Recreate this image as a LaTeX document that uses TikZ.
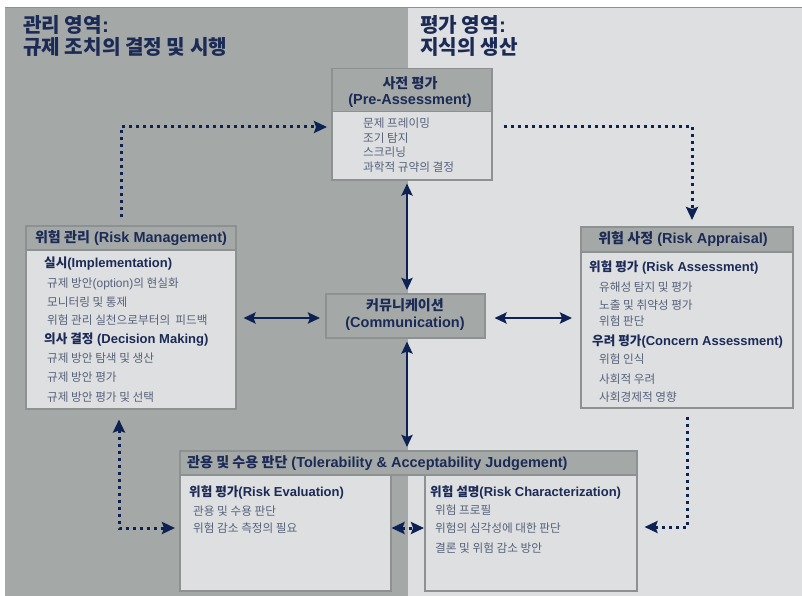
\documentclass[tikz,border=0pt]{standalone}
\usepackage{fontspec}
\setmainfont{Liberation Sans}
\newfontfamily\hgf{Noto Sans CJK KR}[Scale=0.97]
\newcommand\hg[1]{{\hgf #1}}
\usetikzlibrary{arrows.meta}
\definecolor{panelL}{HTML}{A4A9A7}
\definecolor{panelR}{HTML}{DDDFE1}
\definecolor{edgec}{HTML}{8D9191}
\definecolor{navy}{HTML}{1C2A56}
\definecolor{itemc}{HTML}{58617A}
\definecolor{arrc}{HTML}{0D2252}
\begin{document}
\begin{tikzpicture}[x=1pt,y=-1pt,
 hdr/.style={draw=edgec, line width=1.5pt, fill=panelL, inner sep=0pt, anchor=north west},
 bodybox/.style={draw=edgec, line width=1.5pt, fill=panelR, inner sep=0pt, anchor=north west},
 ttl/.style={font=\fontsize{20.8}{24}\selectfont\bfseries, text=navy, anchor=west, inner sep=0pt, text height=15pt, text depth=0pt},
 htxt/.style={font=\fontsize{14.5}{17}\selectfont\bfseries, text=navy, inner sep=0pt, text height=10.4pt, text depth=0pt},
 subt/.style={font=\fontsize{13}{15}\selectfont\bfseries, text=navy, anchor=west, inner sep=0pt, text height=9.3pt, text depth=0pt},
 item/.style={font=\fontsize{12}{14}\selectfont, text=itemc, anchor=west, inner sep=0pt, text height=8.6pt, text depth=0pt},
 conn/.style={draw=arrc, line width=2.5pt, shorten <=3pt, shorten >=3pt,
   {Stealth[length=12pt,width=11pt,inset=2pt]}-{Stealth[length=12pt,width=11pt,inset=2pt]}},
 dotc/.style={draw=arrc, line width=3pt, dash pattern=on 3pt off 4pt},
 tipd/.tip={Stealth[length=13pt,width=12pt,inset=2pt]}
]
\useasboundingbox (0,0) rectangle (802,596);
\fill[white] (0,0) rectangle (802,596);
\fill[panelL] (5,8) rectangle (408,596);
\fill[panelR] (408,8) rectangle (802,596);
\draw[edgec, line width=1pt] (5,7.5) -- (802,7.5);

% titles
\node[ttl] (tl1) at (23,25) {\hg{관리 영역}:};
\node[ttl] (tl2) at (23,47) {\hg{규제 조치의 결정 및 시행}};
\node[ttl] (tr1) at (420,25) {\hg{평가 영역}:};
\node[ttl] (tr2) at (420,47) {\hg{지식의 생산}};

% pre-assessment
\node[hdr, minimum width=160pt, minimum height=43pt] (preH) at (331,68) {};
\node[bodybox, minimum width=160pt, minimum height=68pt] (preB) at (331,111) {};
\node[htxt] (preT1) at (410,83) {\hg{사전 평가}};
\node[htxt] (preT2) at (410,99) {(Pre-Assessment)};
\node[item] (pre1) at (363,123) {\hg{문제 프레이밍}};
\node[item] (pre2) at (363,138) {\hg{조기 탐지}};
\node[item] (pre3) at (363,152) {\hg{스크리닝}};
\node[item] (pre4) at (363,167) {\hg{과학적 규약의 결정}};

% risk management
\node[hdr, minimum width=210pt, minimum height=24pt] (rmH) at (25,225) {};
\node[bodybox, minimum width=210pt, minimum height=159pt] (rmB) at (25,249) {};
\node[htxt] (rmT) at (131,237) {\hg{위험 관리} (Risk Management)};
\node[subt] (rmS1) at (44,263) {\hg{실시}(Implementation)};
\node[item] (rm1) at (47,283) {\hg{규제 방안}(option)\hg{의 현실화}};
\node[item] (rm2) at (47,302) {\hg{모니터링 및 통제}};
\node[item] (rm3) at (47,320) {\hg{위험 관리 실천으로부터의\ \ 피드백}};
\node[subt] (rmS2) at (44,339) {\hg{의사 결정} (Decision Making)};
\node[item] (rm4) at (47,358) {\hg{규제 방안 탐색 및 생산}};
\node[item] (rm5) at (47,377) {\hg{규제 방안 평가}};
\node[item] (rm6) at (47,397) {\hg{규제 방안 평가 및 선택}};

% risk appraisal
\node[hdr, minimum width=212pt, minimum height=25pt] (raH) at (580,226) {};
\node[bodybox, minimum width=212pt, minimum height=156pt] (raB) at (580,251) {};
\node[htxt] (raT) at (683,238) {\hg{위험 사정} (Risk Appraisal)};
\node[subt] (raS1) at (589,267) {\hg{위험 평가} (Risk Assessment)};
\node[item] (ra1) at (599,287) {\hg{유해성 탐지 및 평가}};
\node[item] (ra2) at (599,305) {\hg{노출 및 취약성 평가}};
\node[item] (ra3) at (599,321) {\hg{위험 판단}};
\node[subt] (raS2) at (592,341) {\hg{우려 평가}(Concern Assessment)};
\node[item] (ra4) at (599,359) {\hg{위험 인식}};
\node[item] (ra5) at (599,379) {\hg{사회적 우려}};
\node[item] (ra6) at (599,397) {\hg{사회경제적 영향}};

% communication
\node[hdr, minimum width=159pt, minimum height=44pt] (comm) at (325,293) {};
\node[htxt] (cmT1) at (405,305) {\hg{커뮤니케이션}};
\node[htxt] (cmT2) at (405,322) {(Communication)};

% tolerability
\node[hdr, minimum width=457pt, minimum height=24pt] (tolH) at (179,450) {};
\node[bodybox, minimum width=211pt, minimum height=116pt] (evB) at (179,474) {};
\node[bodybox, minimum width=212pt, minimum height=116pt] (chB) at (424,474) {};
\node[htxt, anchor=west] (tolT) at (187,462) {\hg{관용 및 수용 판단} (Tolerability \& Acceptability Judgement)};
\node[subt] (evS) at (189,492) {\hg{위험 평가}(Risk Evaluation)};
\node[item] (ev1) at (193,511) {\hg{관용 및 수용 판단}};
\node[item] (ev2) at (193,528) {\hg{위험 감소 측정의 필요}};
\node[subt] (chS) at (430,492) {\hg{위험 설명}(Risk Characterization)};
\node[item] (ch1) at (435,510) {\hg{위험 프로필}};
\node[item] (ch2) at (435,528) {\hg{위험의 심각성에 대한 판단}};
\node[item] (ch3) at (435,548) {\hg{결론 및 위험 감소 방안}};

% solid connectors
\coordinate (vx) at (407,0);
\coordinate (hy) at (0,318);
\draw[conn] (preB.south -| vx) -- (comm.north -| vx);
\draw[conn] (comm.south -| vx) -- (tolH.north -| vx);
\draw[conn, shorten <=7pt, shorten >=5pt] (rmB.east |- hy) -- (comm.west |- hy);
\draw[conn, shorten <=9pt, shorten >=8pt] (comm.east |- hy) -- (raB.west |- hy);

% dotted connectors
\coordinate (d1) at (121,127);
\coordinate (d2) at (692,127);
\coordinate (d3) at (119,528);
\coordinate (d4) at (687,527);
\draw[dotc, -tipd, shorten <=8pt, shorten >=4pt] (rmH.north -| d1) |- (preB.west |- d1);
\draw[dotc, -tipd, shorten <=11pt, shorten >=6pt] (preB.east |- d2) -| (raH.north -| d2);
\draw[dotc, tipd-tipd, shorten <=10pt, shorten >=4pt] (rmB.south -| d3) |- (evB.west |- d3);
\draw[dotc, -tipd, shorten <=8pt, shorten >=7pt] (raB.south -| d4) |- (chB.east |- d4);
\draw[dotc, tipd-tipd] (evB.east |- d3) -- (chB.west |- d3);
\end{tikzpicture}
\end{document}
